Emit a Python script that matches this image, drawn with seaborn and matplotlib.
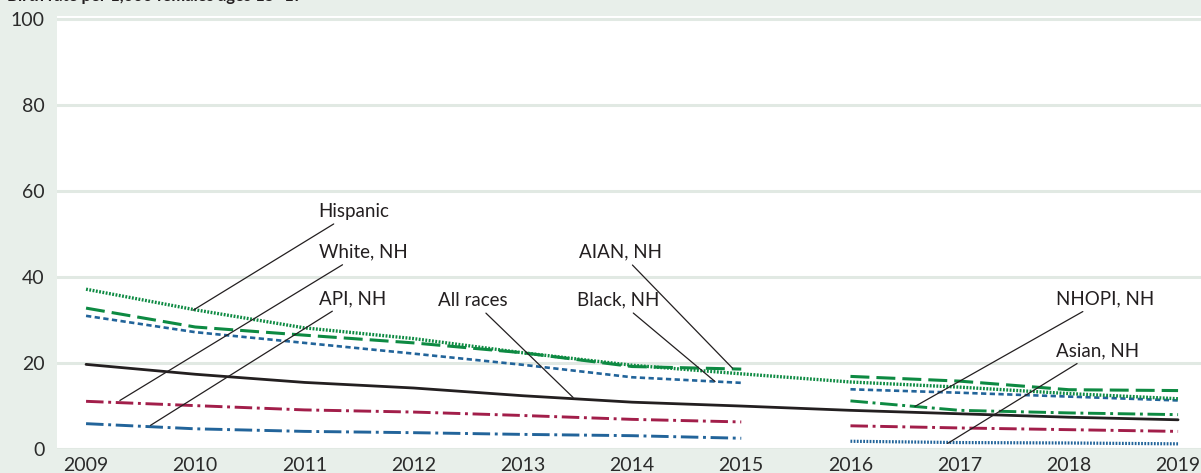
import numpy as np
import pandas as pd
import seaborn as sns
import matplotlib.pyplot as plt

# -------------------------------
# data
# -------------------------------
years_all = [2009, 2010, 2011, 2012, 2013, 2014, 2015, 2016, 2017, 2018, 2019]
years_early = [2009, 2010, 2011, 2012, 2013, 2014, 2015]
years_late = [2016, 2017, 2018, 2019]

all_races = [19.7, 17.4, 15.5, 14.2, 12.4, 10.9, 10.0, 9.0, 8.2, 7.4, 6.8]
hispanic = [37.2, 32.4, 28.2, 25.7, 22.4, 19.5, 17.5, 15.6, 14.4, 12.9, 11.7]

aian_early = [32.8, 28.4, 26.5, 24.7, 22.4, 19.2, 18.6]
aian_late = [16.9, 15.8, 13.8, 13.6]
black_early = [31.0, 27.2, 24.7, 22.2, 19.6, 16.7, 15.4]
black_late = [13.9, 13.1, 12.2, 11.3]
white_early = [11.1, 10.1, 9.1, 8.6, 7.8, 6.9, 6.3]
white_late = [5.4, 4.9, 4.5, 4.1]
api_early = [5.9, 4.7, 4.1, 3.8, 3.4, 3.1, 2.5]
nhopi_late = [11.2, 9.0, 8.4, 8.0]
asian_late = [1.8, 1.5, 1.4, 1.2]

title_text = "Birth rate per 1,000 females ages 15\u201317"

GREEN = "#0d8a42"
BLUE = "#22649a"
RED = "#a21e4a"
DARK = "#231f20"
BG = "#e8efea"
GRID = "#e1e9e3"

# -------------------------------
# figure
# -------------------------------
sns.set_style("white")
plt.rcParams["font.family"] = ["Lato", "DejaVu Sans"]

fig = plt.figure(figsize=(12.01, 4.73), dpi=100, facecolor=BG)
ax = fig.add_axes([57 / 1201, 1 - 449 / 473, 1 - 57 / 1201, (449 - 16) / 473])
ax.set_facecolor("white")

dotted = (0, (0.55, 0.45))
long_dash = (0, (6.2, 2.3))
short_dash = (0, (2.0, 1.3))
dash_dot = (0, (6.0, 1.6, 1.0, 1.6))

# series: x, y, colour, style, width
series = [
    (years_early, api_early, BLUE, dash_dot, 2.1),
    (years_early, white_early, RED, dash_dot, 2.1),
    (years_late, white_late, RED, dash_dot, 2.1),
    (years_late, asian_late, BLUE, dotted, 2.3),
    (years_late, nhopi_late, GREEN, dash_dot, 2.1),
    (years_early, black_early, BLUE, short_dash, 1.9),
    (years_late, black_late, BLUE, short_dash, 1.9),
    (years_early, aian_early, GREEN, long_dash, 2.2),
    (years_late, aian_late, GREEN, long_dash, 2.2),
    (years_all, hispanic, GREEN, dotted, 2.4),
    (years_all, all_races, DARK, "-", 2.0),
]
for xs, ys, col, ls, lw in series:
    sns.lineplot(x=xs, y=ys, ax=ax, color=col, linestyle=ls, linewidth=lw)

# -------------------------------
# axes styling
# -------------------------------
ax.set_xlim(2008.734, 2019.21)
ax.set_ylim(0, 100.8)
ax.set_xticks(years_all)
ax.set_yticks([0, 20, 40, 60, 80, 100])
ax.grid(axis="y", color=GRID, linewidth=2.2)
ax.grid(axis="x", visible=False)
ax.set_axisbelow(True)
for s in ax.spines.values():
    s.set_visible(False)
ax.tick_params(axis="x", direction="in", length=10, width=2, color=GRID,
               pad=6, labelsize=14, labelcolor="#2b2b2b")
ax.tick_params(axis="y", length=0, pad=9, labelsize=14, labelcolor="#2b2b2b")
ax.set_xlabel("")
ax.set_ylabel("")

# -------------------------------
# labels with leader lines
# -------------------------------
labels = [
    ("Hispanic", (2009.98, 32.3), (2011.13, 55.3), "left"),
    ("White, NH", (2009.31, 11.3), (2011.13, 45.8), "left"),
    ("API, NH", (2009.59, 5.5), (2011.13, 35.0), "left"),
    ("All races", (2013.46, 12.0), (2012.86, 34.6), "right"),
    ("Black, NH", (2014.76, 15.7), (2014.25, 34.6), "right"),
    ("AIAN, NH", (2014.92, 18.8), (2014.27, 45.8), "right"),
    ("NHOPI, NH", (2016.59, 9.9), (2017.88, 34.9), "left"),
    ("Asian, NH", (2016.89, 1.3), (2017.88, 22.8), "left"),
]
for txt, pt, tpos, ha in labels:
    ax.annotate(txt, xy=pt, xytext=tpos, ha=ha, va="center", fontsize=13.5,
                color="#231f20",
                arrowprops=dict(arrowstyle="-", color="#231f20", lw=0.9,
                                shrinkA=1, shrinkB=0))

fig.text(0.006, 1 - 1.5 / 473, title_text, ha="left", va="baseline",
         fontsize=12, fontweight="bold", color="#231f20")

fig.savefig("out.png", dpi=100, facecolor=BG)
